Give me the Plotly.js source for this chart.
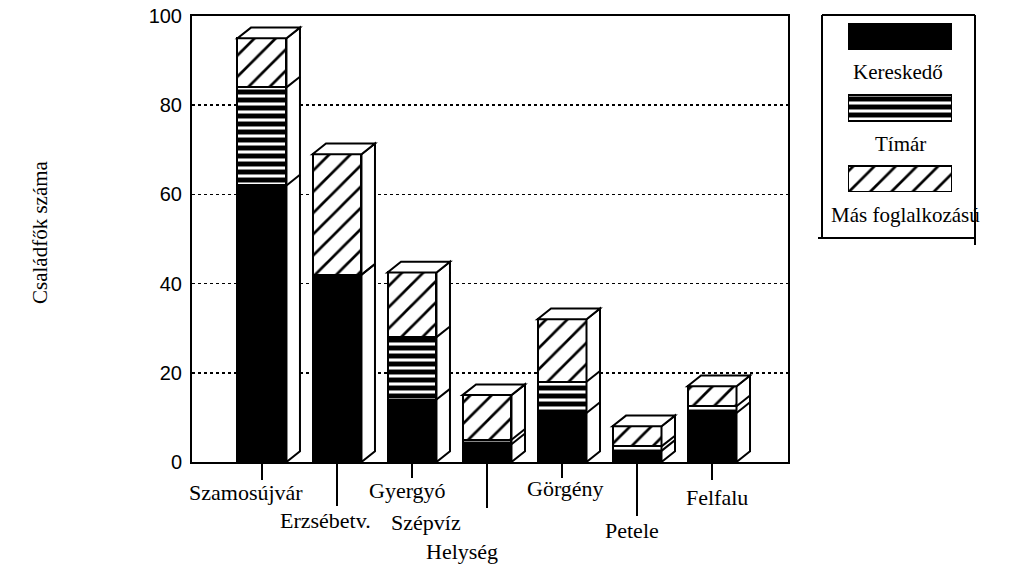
<!DOCTYPE html>
<html>
<head>
<meta charset="utf-8">
<script src="https://cdn.plot.ly/plotly-3.0.1.min.js"></script>
<style>html,body{margin:0;padding:0;background:#fff;}#chart{width:1010px;height:572px;}</style>
</head>
<body>
<div id="chart"></div>
<script>
// ---- data ----
const categories = ['Szamosújvár', 'Erzsébetv.', 'Gyergyó', 'Szépvíz', 'Görgény', 'Petele', 'Felfalu'];
const kereskedo = [62, 42, 14, 4, 11, 2.5, 11];
const timar     = [22, 0, 14, 1, 7, 1, 1.5];
const mas       = [11, 27, 14.5, 10, 14, 4.5, 4.5];
const seriesNames = ['Kereskedő', 'Tímár', 'Más foglalkozású'];
const yTicks = [0, 20, 40, 60, 80, 100];
const xTitle = 'Helység';
const yTitle = 'Családfők száma';

// ---- layout helpers (pixel offsets of staggered labels) ----
const labelDx = [-16, -11, -4, -61, 3, -5, 5];
const labelDy = [-30, -58, -28, -60, -26, -68, -35];
const tickLen = [18, 44, 16, 46, 16, 54, 18];

const serif = 'Liberation Serif, Times New Roman, serif';
const xs = categories.map((_, i) => i);
const W = 0.653, DX = 0.18, DY = 2.4;
const plotH = 446;

const markers = [
  {color: '#000', line: {color: '#000', width: 2}},
  {color: '#fff', line: {color: '#000', width: 2},
   pattern: {shape: '-', fgcolor: '#000', bgcolor: '#fff', size: 8, solidity: 0.62, fillmode: 'replace'}},
  {color: '#fff', line: {color: '#000', width: 2},
   pattern: {shape: '/', fgcolor: '#000', bgcolor: '#fff', size: 15, solidity: 0.18, fillmode: 'replace'}}
];
const seriesVals = [kereskedo, timar, mas];

const traces = seriesVals.map((vals, k) => ({
  type: 'bar', x: xs, y: vals, name: seriesNames[k], width: W,
  marker: markers[k], showlegend: false, hoverinfo: 'skip'
}));

// custom legend swatches
seriesNames.forEach((n, k) => {
  traces.push({
    type: 'bar', orientation: 'h', x: [1], y: [2 - k], base: 0, width: 0.365,
    xaxis: 'x2', yaxis: 'y2', marker: markers[k], showlegend: false,
    cliponaxis: false, hoverinfo: 'skip'
  });
});

// 3D side/top faces
const shapes = [];
xs.forEach(i => {
  const c1 = kereskedo[i], c2 = c1 + timar[i], T = c2 + mas[i];
  const r = i + W / 2, l = i - W / 2;
  shapes.push({type: 'path', xref: 'x', yref: 'y', fillcolor: '#fff',
    line: {color: '#000', width: 2},
    path: `M ${r},0 L ${r + DX},${DY} L ${r + DX},${T + DY} L ${r},${T} Z`});
  shapes.push({type: 'path', xref: 'x', yref: 'y', fillcolor: '#fff',
    line: {color: '#000', width: 2},
    path: `M ${l},${T} L ${l + DX},${T + DY} L ${r + DX},${T + DY} L ${r},${T} Z`});
  [c1, c2].forEach(c => {
    if (c > 0 && c < T) {
      shapes.push({type: 'line', xref: 'x', yref: 'y', x0: r, y0: c, x1: r + DX, y1: c + DY,
        line: {color: '#000', width: 2}});
    }
  });
  // category tick below the axis
  shapes.push({type: 'line', xref: 'x', yref: 'paper', x0: i, x1: i, y0: 0, y1: -tickLen[i] / plotH,
    line: {color: '#000', width: 2}});
});

// legend frame (paper coords)
const px = p => (p - 192) / 788;
const py = p => (462 - p) / 446;
shapes.push({type: 'line', xref: 'paper', yref: 'paper', x0: px(822), x1: px(822), y0: py(15), y1: py(238), line: {color: '#000', width: 2}});
shapes.push({type: 'line', xref: 'paper', yref: 'paper', x0: px(822), x1: px(975), y0: py(15), y1: py(15), line: {color: '#000', width: 2}});
shapes.push({type: 'line', xref: 'paper', yref: 'paper', x0: px(975), x1: px(975), y0: py(15), y1: py(245), line: {color: '#000', width: 2}});
shapes.push({type: 'line', xref: 'paper', yref: 'paper', x0: px(818), x1: px(975), y0: py(238), y1: py(238), line: {color: '#000', width: 2}});

const annotations = categories.map((c, i) => ({
  text: c, xref: 'x', yref: 'paper', x: i, y: 0, xanchor: 'center', yanchor: 'middle',
  xshift: labelDx[i], yshift: labelDy[i], showarrow: false,
  font: {family: serif, size: 22, color: '#000'}
}));
annotations.push({text: xTitle, xref: 'paper', yref: 'paper', x: px(462), y: py(551),
  xanchor: 'center', yanchor: 'middle', showarrow: false, font: {family: serif, size: 22, color: '#000'}});
annotations.push({text: yTitle, xref: 'paper', yref: 'paper', x: px(40), y: py(232), textangle: -90,
  xanchor: 'center', yanchor: 'middle', showarrow: false, font: {family: serif, size: 21, color: '#000'}});
const legY = [72, 144, 215], legX = [898, 900, 905];
seriesNames.forEach((n, k) => annotations.push({text: n, xref: 'paper', yref: 'paper',
  x: px(legX[k]), y: py(legY[k]), xanchor: 'center', yanchor: 'middle', showarrow: false,
  font: {family: serif, size: 21, color: '#000'}}));

const layout = {
  width: 1010, height: 572,
  margin: {l: 192, r: 30, t: 16, b: 110},
  paper_bgcolor: '#fff', plot_bgcolor: '#fff',
  barmode: 'stack', showlegend: false,
  xaxis: {domain: [0, 596 / 788], range: [-0.933, 7.013], showgrid: false, zeroline: false,
    showticklabels: false, ticks: '', showline: true, mirror: true, linecolor: '#000', linewidth: 2,
    fixedrange: true},
  yaxis: {range: [0, 100], tickvals: yTicks, ticktext: yTicks.map(String), showgrid: true,
    gridcolor: '#000', griddash: 'dot', gridwidth: 1.5, zeroline: false, showline: true, mirror: true,
    linecolor: '#000', linewidth: 2, ticks: '', ticklabelstandoff: 4,
    tickfont: {family: 'Liberation Sans, Arial, sans-serif', size: 20, color: '#000'}, fixedrange: true},
  xaxis2: {domain: [px(848), px(952)], range: [0, 1], visible: false, anchor: 'y2', fixedrange: true},
  yaxis2: {domain: [py(192), py(23)], range: [-0.182, 2.189], visible: false, anchor: 'x2', fixedrange: true},
  shapes: shapes, annotations: annotations
};

Plotly.newPlot('chart', traces, layout, {staticPlot: true, displayModeBar: false});
</script>
</body>
</html>
